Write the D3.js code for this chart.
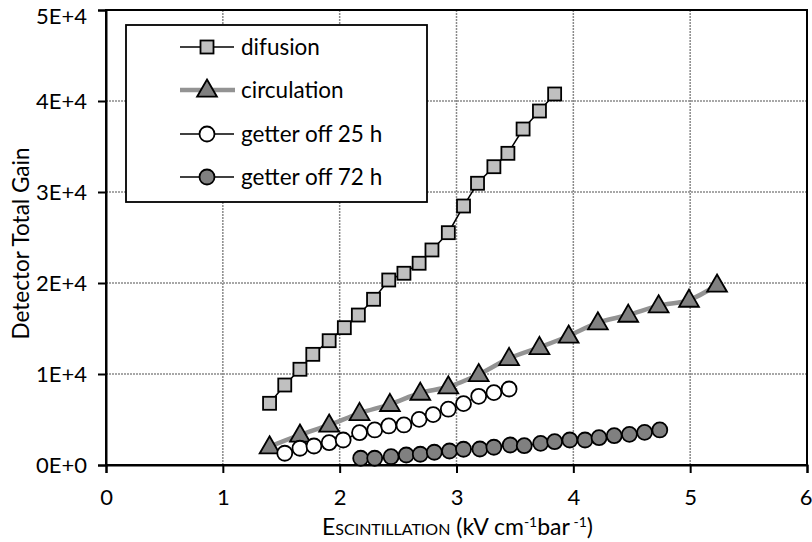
<!DOCTYPE html>
<html><head><meta charset="utf-8">
<script src="https://cdn.jsdelivr.net/npm/d3@7"></script>
<style>body{margin:0;background:#fff}svg{display:block}text{font-family:Lato,"Open Sans",sans-serif;fill:#000}</style>
</head><body><svg id="c" width="812" height="542"></svg>
<script>
const xTicks=[0,1,2,3,4,5,6];
const yTicks=[0,10000,20000,30000,40000,50000];
const yTickLabels=["0E+0","1E+4","2E+4","3E+4","4E+4","5E+4"];
const seriesNames=["difusion","circulation","getter off 25 h","getter off 72 h"];
const difX=[1.40,1.53,1.66,1.77,1.91,2.04,2.16,2.29,2.42,2.55,2.68,2.79,2.93,3.06,3.18,3.32,3.44,3.57,3.71,3.84];
const difY=[6780,8790,10520,12160,13660,15090,16480,18210,20330,21070,22170,23630,25530,28460,30960,32780,34250,36920,38900,40770];
const cirX=[1.40,1.66,1.91,2.17,2.43,2.69,2.93,3.19,3.45,3.71,3.96,4.21,4.47,4.73,4.99,5.23];
const cirY=[2010,3300,4400,5680,6670,7910,8600,9950,11720,12930,14180,15640,16480,17510,18130,19780];
const g25X=[1.53,1.66,1.78,1.91,2.03,2.17,2.30,2.42,2.55,2.68,2.80,2.93,3.06,3.19,3.32,3.45];
const g25Y=[1290,1840,2090,2450,2750,3550,3850,4290,4400,5020,5530,6130,6740,7550,7950,8350];
const g72X=[2.18,2.30,2.44,2.57,2.69,2.81,2.94,3.06,3.20,3.32,3.46,3.58,3.72,3.84,3.97,4.10,4.22,4.35,4.48,4.61,4.74];
const g72Y=[740,740,910,1100,1180,1400,1540,1730,1760,1950,2200,2120,2380,2560,2750,2750,3000,3220,3370,3590,3850];

const svg=d3.select("#c");
const m={l:106,r:5,t:10,b:77};
const W=812-m.l-m.r,H=542-m.t-m.b;
const x=d3.scaleLinear().domain([0,6]).range([m.l,m.l+W]);
const y=d3.scaleLinear().domain([0,50000]).range([m.t+H,m.t]);

// gridlines
const grid=svg.append("g");
grid.selectAll("line.gx").data(xTicks.slice(1,-1)).join("line")
 .attr("x1",d=>x(d)).attr("x2",d=>x(d)).attr("y1",y(0)).attr("y2",y(50000))
 .attr("stroke","#8a8a8a").attr("stroke-width",1.5).attr("stroke-dasharray","2,1");
grid.selectAll("line.gy").data(yTicks.slice(1,-1)).join("line")
 .attr("y1",d=>y(d)).attr("y2",d=>y(d)).attr("x1",x(0)).attr("x2",x(6))
 .attr("stroke","#8a8a8a").attr("stroke-width",1.5).attr("stroke-dasharray","2,1");

// frame
svg.append("rect").attr("x",x(0)).attr("y",y(50000)).attr("width",x(6)-x(0)).attr("height",y(0)-y(50000))
 .attr("fill","none").attr("stroke","#000").attr("stroke-width",2);

// axes
const xa=svg.append("g").attr("transform",`translate(0,${y(0)})`)
 .call(d3.axisBottom(x).tickValues(xTicks).tickSize(8).tickPadding(16).tickFormat(d3.format("d")));
const ya=svg.append("g").attr("transform",`translate(${x(0)},0)`)
 .call(d3.axisLeft(y).tickValues(yTicks).tickSize(8).tickPadding(11).tickFormat((d,i)=>yTickLabels[i]));
[xa,ya].forEach(a=>{a.select(".domain").attr("stroke","#000").attr("stroke-width",2);
 a.selectAll(".tick line").attr("stroke","#000").attr("stroke-width",2);
 a.selectAll(".tick text").style("font-size","22px").style("font-family","Lato");});
// keep edge labels inside the picture
ya.selectAll(".tick text").filter(d=>d===50000).attr("dy","0.62em");
xa.selectAll(".tick text").filter(d=>d===6).attr("text-anchor","end").attr("x",5);

// axis titles
svg.append("text").attr("transform",`translate(29,${(y(0)+y(50000))/2+6}) rotate(-90)`)
 .attr("text-anchor","middle").style("font-size","22.5px").text("Detector Total Gain");
const xt=svg.append("text").attr("x",(x(0)+x(6))/2+1).attr("y",535).attr("text-anchor","middle").style("font-size","23px");
xt.append("tspan").text("E");
xt.append("tspan").style("font-size","16px").text("SCINTILLATION");
xt.append("tspan").text(" (kV cm");
xt.append("tspan").style("font-size","14px").attr("dy",-8).text("-1");
xt.append("tspan").attr("dy",8).text("bar");
xt.append("tspan").style("font-size","14px").attr("dy",-8).text(" -1");
xt.append("tspan").attr("dy",8).text(")");

const pts=(X,Y)=>X.map((v,i)=>[x(v),y(Y[i])]);
const line=d3.line();
const smooth=d3.line().curve(d3.curveCatmullRom.alpha(0.5));

const tri=d3.symbol().type(d3.symbolTriangle).size(170);
function drawSquare(g,p){g.append("rect").attr("x",p[0]-6.5).attr("y",p[1]-6.5).attr("width",13).attr("height",13)
 .attr("fill","#c0c0c0").attr("stroke","#000").attr("stroke-width",1.8);}
function drawTri(g,p){g.append("path").attr("d",tri).attr("transform",`translate(${p[0]},${p[1]+1})`)
 .attr("fill","#808080").attr("stroke","#000").attr("stroke-width",1.8);}
function drawCirc(g,p,f){g.append("circle").attr("cx",p[0]).attr("cy",p[1]).attr("r",7.5)
 .attr("fill",f).attr("stroke","#000").attr("stroke-width",1.8);}

const plot=svg.append("g");
// difusion
const dp=pts(difX,difY);
plot.append("path").attr("d",line(dp)).attr("fill","none").attr("stroke","#000").attr("stroke-width",1.5);
dp.forEach(p=>drawSquare(plot,p));
// circulation
const cp=pts(cirX,cirY);
plot.append("path").attr("d",smooth(cp)).attr("fill","none").attr("stroke","#939393").attr("stroke-width",4.5);
cp.forEach(p=>drawTri(plot,p));
// getter 25
const g1=pts(g25X,g25Y);
plot.append("path").attr("d",line(g1)).attr("fill","none").attr("stroke","#000").attr("stroke-width",1.5);
g1.forEach(p=>drawCirc(plot,p,"#fff"));
// getter 72
const g2=pts(g72X,g72Y);
plot.append("path").attr("d",line(g2)).attr("fill","none").attr("stroke","#000").attr("stroke-width",1.5);
g2.forEach(p=>drawCirc(plot,p,"#808080"));

// legend
const lg=svg.append("g");
lg.append("rect").attr("x",126).attr("y",25).attr("width",301).attr("height",177)
 .attr("fill","#fff").attr("stroke","#000").attr("stroke-width",1.8);
const rowsY=[47,90,134,177];
seriesNames.forEach((n,i)=>{
 const yy=rowsY[i];
 if(i===1) lg.append("line").attr("x1",180).attr("x2",235).attr("y1",yy).attr("y2",yy).attr("stroke","#939393").attr("stroke-width",4.5);
 else lg.append("line").attr("x1",180).attr("x2",234).attr("y1",yy).attr("y2",yy).attr("stroke","#000").attr("stroke-width",1.5);
 const p=[207,yy];
 if(i===0) drawSquare(lg,p); else if(i===1) drawTri(lg,p); else drawCirc(lg,p,i===2?"#fff":"#808080");
 lg.append("text").attr("x",241).attr("y",yy).attr("dy","0.35em").style("font-size","22.5px").text(n);
});
</script></body></html>
